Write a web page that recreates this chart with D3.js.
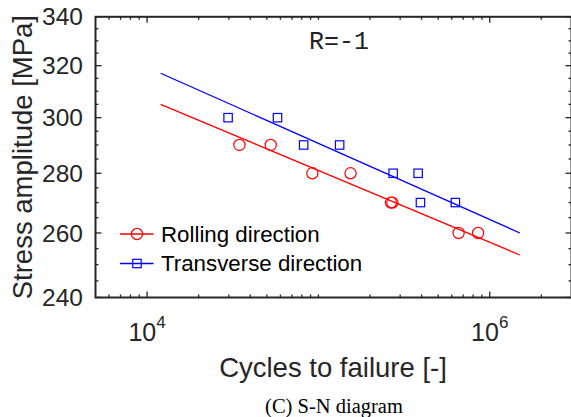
<!DOCTYPE html>
<html>
<head>
<meta charset="utf-8">
<script src="https://cdn.jsdelivr.net/npm/d3@7/dist/d3.min.js"></script>
<style>
  html, body { margin: 0; padding: 0; background: #fff; }
  svg { display: block; }
</style>
</head>
<body>
<svg id="chart" width="571" height="417"></svg>
<script>
// Fatigue test results: cycles to failure vs. stress amplitude (R = -1)
const rollingCycles   = [3.46e4, 5.27e4, 9.22e4, 1.54e5, 2.65e5, 2.70e5, 6.58e5, 8.55e5];
const rollingStress   = [290, 290, 280, 280, 270, 270, 260, 260];
const transverseCycles = [2.97e4, 5.77e4, 8.2e4, 1.33e5, 2.73e5, 3.82e5, 3.94e5, 6.3e5];
const transverseStress = [300, 300, 290, 290, 280, 280, 270, 270];

// Basquin fit lines (end points)
const fitCycles = [1.2e4, 1.5e6];
const rollingFit = [305, 253];
const transverseFit = [317, 260];

// Axis ticks
const xMajorTicks = [1e4, 1e6];
const xMajorLabels = ["4", "6"];
const xMinorTicks = [6e3, 7e3, 8e3, 9e3, 2e4, 3e4, 4e4, 5e4, 6e4, 7e4, 8e4, 9e4, 1e5,
                     2e5, 3e5, 4e5, 5e5, 6e5, 7e5, 8e5, 9e5, 2e6];
const yMajorTicks = [240, 260, 280, 300, 320, 340];
const yMinorTicks = [245, 250, 255, 265, 270, 275, 285, 290, 295, 305, 310, 315, 325, 330, 335];

const seriesNames = ["Rolling direction", "Transverse direction"];
const seriesColors = ["#ff0000", "#0000ff"];

(function () {
const svg = d3.select("#chart");
const axisColor = "#262626";

const pLeft = 95.5, pRight = 571.5, pTop = 16.8, pBottom = 297.5;

const x = d3.scaleLog().domain([5e3, 3e6]).range([pLeft, pRight]);
const y = d3.scaleLog().domain([240, 340]).range([pBottom, pTop]);

const g = svg.append("g");

// Ticks (inward, on all four sides)
function drawXTicks(values, len) {
  values.forEach(v => {
    g.append("line").attr("x1", x(v)).attr("x2", x(v))
      .attr("y1", pBottom).attr("y2", pBottom - len)
      .attr("stroke", axisColor).attr("stroke-width", 1.3);
    g.append("line").attr("x1", x(v)).attr("x2", x(v))
      .attr("y1", pTop).attr("y2", pTop + len)
      .attr("stroke", axisColor).attr("stroke-width", 1.3);
  });
}
function drawYTicks(values, len) {
  values.forEach(v => {
    g.append("line").attr("x1", pLeft).attr("x2", pLeft + len)
      .attr("y1", y(v)).attr("y2", y(v))
      .attr("stroke", axisColor).attr("stroke-width", 1.3);
    g.append("line").attr("x1", pRight).attr("x2", pRight - len)
      .attr("y1", y(v)).attr("y2", y(v))
      .attr("stroke", axisColor).attr("stroke-width", 1.3);
  });
}
drawXTicks(xMinorTicks, 3);
drawXTicks(xMajorTicks, 6);
drawYTicks(yMinorTicks, 3);
drawYTicks(yMajorTicks, 6);

// Frame
g.append("rect")
  .attr("x", pLeft).attr("y", pTop)
  .attr("width", pRight - pLeft).attr("height", pBottom - pTop)
  .attr("fill", "none").attr("stroke", axisColor).attr("stroke-width", 2);

// Y tick labels
g.selectAll(".ylab").data(yMajorTicks).enter().append("text")
  .attr("x", 83).attr("y", d => y(d))
  .attr("dy", "0.35em")
  .attr("text-anchor", "end")
  .attr("font-family", "Liberation Sans, Arial, sans-serif")
  .attr("font-size", 24.5)
  .attr("fill", axisColor)
  .text(d => d);

// X tick labels: 10^n
xMajorTicks.forEach((v, i) => {
  const t = g.append("text")
    .attr("x", x(v)).attr("y", 340.7)
    .attr("text-anchor", "middle")
    .attr("font-family", "Liberation Sans, Arial, sans-serif")
    .attr("fill", axisColor);
  t.append("tspan").attr("font-size", 25).text("10");
  t.append("tspan").attr("font-size", 17).attr("dy", -12.6).text(xMajorLabels[i]);
});

// Axis titles
g.append("text")
  .attr("x", 333).attr("y", 376.7)
  .attr("text-anchor", "middle")
  .attr("font-family", "Liberation Sans, Arial, sans-serif")
  .attr("font-size", 27.5)
  .attr("fill", axisColor)
  .text("Cycles to failure [-]");

g.append("text")
  .attr("transform", `translate(31.5,${(pTop + pBottom) / 2}) rotate(-90)`)
  .attr("text-anchor", "middle")
  .attr("font-family", "Liberation Sans, Arial, sans-serif")
  .attr("font-size", 27.5)
  .attr("fill", axisColor)
  .text("Stress amplitude [MPa]");

// Annotation
g.append("text")
  .attr("x", 339).attr("y", 49.3)
  .attr("text-anchor", "middle")
  .attr("font-family", "Liberation Mono, monospace")
  .attr("font-size", 25)
  .attr("fill", "#222")
  .text("R=-1");

// Fit lines
const line = d3.line().x(d => x(d[0])).y(d => y(d[1]));
[rollingFit, transverseFit].forEach((fit, i) => {
  g.append("path")
    .datum(fitCycles.map((c, k) => [c, fit[k]]))
    .attr("d", line)
    .attr("fill", "none")
    .attr("stroke", seriesColors[i])
    .attr("stroke-width", 1.3);
});

// Data markers
const rollingPts = rollingCycles.map((c, i) => [c, rollingStress[i]]);
const transversePts = transverseCycles.map((c, i) => [c, transverseStress[i]]);

g.selectAll(".circ").data(rollingPts).enter().append("circle")
  .attr("cx", d => x(d[0])).attr("cy", d => y(d[1]))
  .attr("r", 5.6)
  .attr("fill", "none").attr("stroke", seriesColors[0]).attr("stroke-width", 1.2);

const sq = 8.4;
g.selectAll(".sq").data(transversePts).enter().append("rect")
  .attr("x", d => x(d[0]) - sq / 2).attr("y", d => y(d[1]) - sq / 2)
  .attr("width", sq).attr("height", sq)
  .attr("fill", "none").attr("stroke", seriesColors[1]).attr("stroke-width", 1.2);

// Legend
const legendRows = [234, 263.5];
seriesNames.forEach((name, i) => {
  const ly = legendRows[i];
  g.append("line").attr("x1", 120).attr("x2", 153.5)
    .attr("y1", ly).attr("y2", ly)
    .attr("stroke", seriesColors[i]).attr("stroke-width", 1.3);
  if (i === 0) {
    g.append("circle").attr("cx", 137).attr("cy", ly).attr("r", 5.6)
      .attr("fill", "none").attr("stroke", seriesColors[i]).attr("stroke-width", 1.2);
  } else {
    g.append("rect").attr("x", 137 - sq / 2).attr("y", ly - sq / 2)
      .attr("width", sq).attr("height", sq)
      .attr("fill", "none").attr("stroke", seriesColors[i]).attr("stroke-width", 1.2);
  }
  g.append("text")
    .attr("x", 161).attr("y", ly + 7.8)
    .attr("font-family", "Liberation Sans, Arial, sans-serif")
    .attr("font-size", 22.3)
    .attr("fill", "#000")
    .text(name);
});

// Caption
svg.append("text")
  .attr("x", 334).attr("y", 413)
  .attr("text-anchor", "middle")
  .attr("font-family", "Liberation Serif, Times New Roman, serif")
  .attr("font-size", 20.5)
  .attr("fill", "#000")
  .text("(C) S-N diagram");
})();
</script>
</body>
</html>
